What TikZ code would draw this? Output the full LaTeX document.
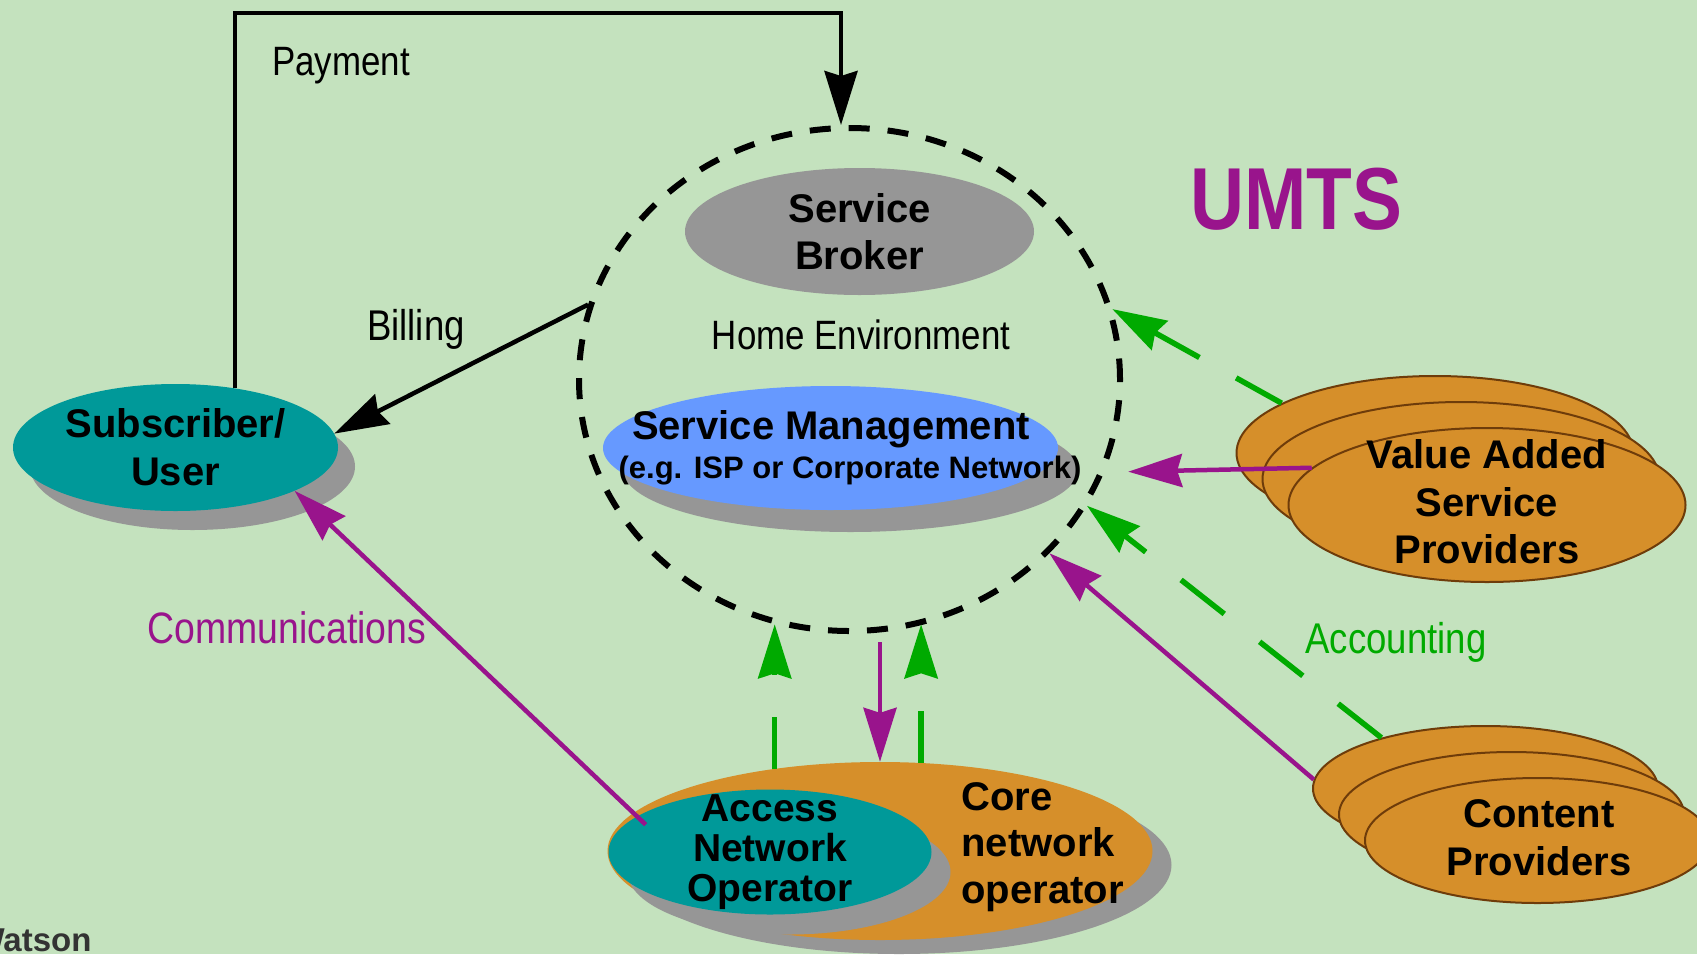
\documentclass[tikz,border=0pt]{standalone}
\usepackage{fontspec}
\setmainfont{Liberation Sans}
\newfontfamily\narrowfont{Liberation Sans}[FakeStretch=0.85]
\usetikzlibrary{shapes.geometric,arrows.meta,shadows}

\definecolor{bgGreen}{RGB}{196,226,190}
\definecolor{tealBlob}{RGB}{0,153,153}
\definecolor{greyBlob}{RGB}{150,150,150}
\definecolor{blueBlob}{RGB}{102,153,255}
\definecolor{orangeBlob}{RGB}{214,143,42}
\definecolor{brownEdge}{RGB}{110,60,10}
\definecolor{umtsPurple}{RGB}{153,20,140}
\definecolor{acctGreen}{RGB}{0,170,0}

\tikzset{
  blob/.style={ellipse, inner sep=0pt},
  shadowed/.style 2 args={drop shadow={shadow xshift=#1, shadow yshift=#2,
      fill=greyBlob, opacity=1}},
  stack/.style={blob, draw=brownEdge, line width=2pt, fill=orangeBlob},
  bigtxt/.style={font=\fontsize{40}{47.5}\selectfont\bfseries, align=center},
  lbl/.style={font=\narrowfont\fontsize{41}{46}\selectfont, anchor=base},
  tip/.style={-{Stealth[length=54pt,width=33pt,inset=5pt]}},
  money/.style={tip, line width=4.5pt, black},
  comm/.style={tip, line width=4.5pt, umtsPurple},
  acct/.style={tip, line width=5.5pt, acctGreen, dash pattern=on 52pt off 42pt},
}

\begin{document}
\begin{tikzpicture}[x=1pt,y=-1pt]
  \useasboundingbox (0,0) rectangle (1697,954);
  \fill[bgGreen] (0,0) rectangle (1697,954);

  % home environment ring
  \node[blob, draw, line width=6pt, dash pattern=on 21pt off 18pt,
        minimum width=541pt, minimum height=503pt] (home) at (849.5,379.5) {};
  \node[blob, fill=greyBlob, minimum width=349pt, minimum height=127pt, bigtxt]
        (broker) at (859.5,231.5) {Service\\Broker};
  \node[lbl] (homeTxt) at (861,349) {Home Environment};
  \node[blob, fill=blueBlob, shadowed={20pt}{-22pt}, minimum width=455pt,
        minimum height=124pt] (mgmt) at (830.5,448) {};
  \node[font=\fontsize{40}{44}\selectfont\bfseries] (mgmtTxt) at (831,429) {Service Management};
  \node[font=\fontsize{31}{34}\selectfont\bfseries] (mgmtSub) at (850,471) {(e.g. ISP or Corporate Network)};

  % subscriber
  \node[blob, fill=tealBlob, shadowed={17pt}{-19pt}, minimum width=325pt,
        minimum height=127pt, bigtxt, font=\fontsize{40}{48}\selectfont\bfseries]
        (user) at (175.5,447.5) {Subscriber/\\User};

  % network operators
  \node[blob, fill=orangeBlob, shadowed={19pt}{-14pt}, minimum width=545pt,
        minimum height=178pt] (core) at (880,851) {};
  \node[blob, fill=tealBlob, shadowed={19pt}{-20pt}, minimum width=323pt,
        minimum height=125pt] (access) at (770,852) {};
  \node[bigtxt, font=\fontsize{39}{40}\selectfont\bfseries] (accessTxt) at (770,852)
        {Access\\Network\\Operator};
  \node[bigtxt, align=left, anchor=west, font=\fontsize{40}{46.5}\selectfont\bfseries]
        (coreTxt) at (958,847) {Core\\network\\operator};

  % value added service providers
  \node[stack, minimum width=397pt, minimum height=154pt] (vasp1) at (1435,453) {};
  \node[stack, minimum width=397pt, minimum height=154pt] (vasp2) at (1461,479) {};
  \node[stack, minimum width=397pt, minimum height=154pt] (vasp3) at (1487,505) {};
  \node[bigtxt] (vaspTxt) at (1487,502) {Value Added\\Service\\Providers};

  % content providers
  \node[stack, minimum width=345pt, minimum height=125pt] (cp1) at (1485.5,788.5) {};
  \node[stack, minimum width=345pt, minimum height=125pt] (cp2) at (1511.5,814.5) {};
  \node[stack, minimum width=345pt, minimum height=125pt] (cp3) at (1537.5,840.5) {};
  \node[bigtxt, font=\fontsize{40}{48}\selectfont\bfseries] (cpTxt) at (1539,838) {Content\\Providers};

  % labels
  \node[font=\narrowfont\fontsize{88}{90}\selectfont\bfseries, text=umtsPurple, anchor=base]
        (umts) at (1296,229) {UMTS};
  \node[lbl] (payTxt) at (341,75) {Payment};
  \node[lbl, font=\narrowfont\fontsize{43}{46}\selectfont] (billTxt) at (416,340) {Billing};
  \node[lbl, font=\narrowfont\fontsize{44}{46}\selectfont, text=umtsPurple]
        (commTxt) at (287,643) {Communications};
  \node[lbl, font=\narrowfont\fontsize{43}{46}\selectfont, text=acctGreen]
        (acctTxt) at (1396,653) {Accounting};
  \node[font=\fontsize{33}{36}\selectfont\bfseries, text=black!80, anchor=base west]
        (author) at (-30,951) {Watson};

  % money flows
  \coordinate (payTop) at (841,13);
  \draw[money] (user.45) |- (payTop) -- (payTop |- home.north);
  \draw[money] (home.164) -- (user.5);

  % communications
  \draw[comm, shorten <=-12pt] (access.165) -- (user.-20);
  \draw[comm, shorten <=8pt] (home.south -| core.north) -- (core.north);
  \draw[comm, shorten >=24pt] (vasp3.168) -- (home.-20);
  \draw[comm] (cp1.177) -- (home.-41);

  % accounting
  \draw[acct] (core.142) -- (core.142 |- home.-107);
  \draw[acct] (core.65) -- (core.65 |- home.-73);
  \draw[acct] (vasp1.162) -- (home.15);
  \draw[acct, dash pattern=on 55pt off 45pt] (cp1.154) -- (home.-28);
\end{tikzpicture}
\end{document}
